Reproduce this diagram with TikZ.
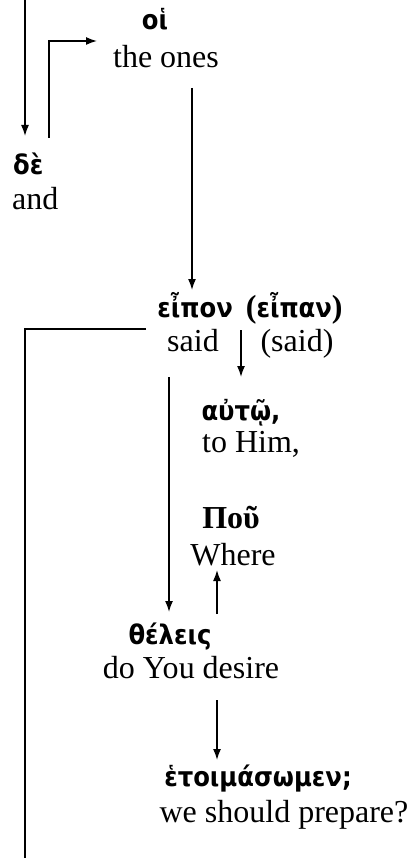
\documentclass[tikz,border=0pt]{standalone}
\usepackage{fontspec}
\setmainfont{Liberation Serif}
\newfontfamily\gkfont{DejaVu Sans Condensed}
\newfontfamily\gkserif{Liberation Serif}
\usetikzlibrary{arrows.meta}
\newcommand{\gkparen}[1]{{\gkserif\bfseries\fontsize{32}{36}\selectfont #1}}
\begin{document}
\begin{tikzpicture}[x=1pt,y=-1pt,
  en/.style={font=\fontsize{32}{36}\selectfont, inner sep=0pt, anchor=base},
  gk/.style={font=\gkfont\bfseries\fontsize{27}{30}\selectfont, inner sep=0pt, anchor=base},
  gks/.style={font=\gkserif\bfseries\fontsize{32}{36}\selectfont, inner sep=0pt, anchor=base},
  ln/.style={line width=1.5pt},
  ar/.style={ln, -{Latex[length=11pt,width=8pt]}}]
\useasboundingbox[fill=white] (0,0) rectangle (409,858);
% nodes
\node[gk] (oi) at (155,30) {οἱ};
\node[en] (oiE) at (166,68) {the ones};
\node[gk, anchor=base west] (de) at (13,175) {δὲ};
\node[en, anchor=base west] (deE) at (12,210) {and};
\node[gk] (eipon) at (250,317) {εἶπον\hspace{13pt}\gkparen{(}εἶπαν\gkparen{)}};
\node[en] (said) at (193,351) {said};
\node[en] (said2) at (297,351) {(said)};
\node[gk] (auto) at (241,420) {αὐτῷ,};
\node[en] (autoE) at (251,452) {to Him,};
\node[gks] (pou) at (231,528) {Ποῦ};
\node[en] (pouE) at (233,565) {Where};
\node[gk] (thel) at (170,644) {θέλεις};
\node[en] (thelE) at (191,678) {do You desire};
\node[gk] (etoim) at (258,786) {ἑτοιμάσωμεν;};
\node[en] (etoimE) at (284,822) {we should prepare?};
% coordinates
\coordinate (a1s) at (25,0);
\coordinate (a1e) at (25,136);
\coordinate (a2s) at (49,138);
\coordinate (a2m) at (49,41);
\coordinate (a2e) at (97,41);
\coordinate (a3s) at (192,88);
\coordinate (a3e) at (192,290);
\coordinate (l4s) at (146,329);
\coordinate (l4m) at (25,329);
\coordinate (l4e) at (25,858);
\coordinate (a5s) at (241,330);
\coordinate (a5e) at (241,377);
\coordinate (a6s) at (169,377);
\coordinate (a6e) at (169,612);
\coordinate (a7s) at (217,614);
\coordinate (a7e) at (217,570);
\coordinate (a8s) at (217,700);
\coordinate (a8e) at (217,760);
% connectors
\draw[ar] (a1s) -- (a1e);
\draw[ar] (a2s) -- (a2m) -- (a2e);
\draw[ar] (a3s) -- (a3e);
\draw[ln] (l4s) -- (l4m) -- (l4e);
\draw[ar] (a5s) -- (a5e);
\draw[ar] (a6s) -- (a6e);
\draw[ar] (a7s) -- (a7e);
\draw[ar] (a8s) -- (a8e);
\end{tikzpicture}
\end{document}
